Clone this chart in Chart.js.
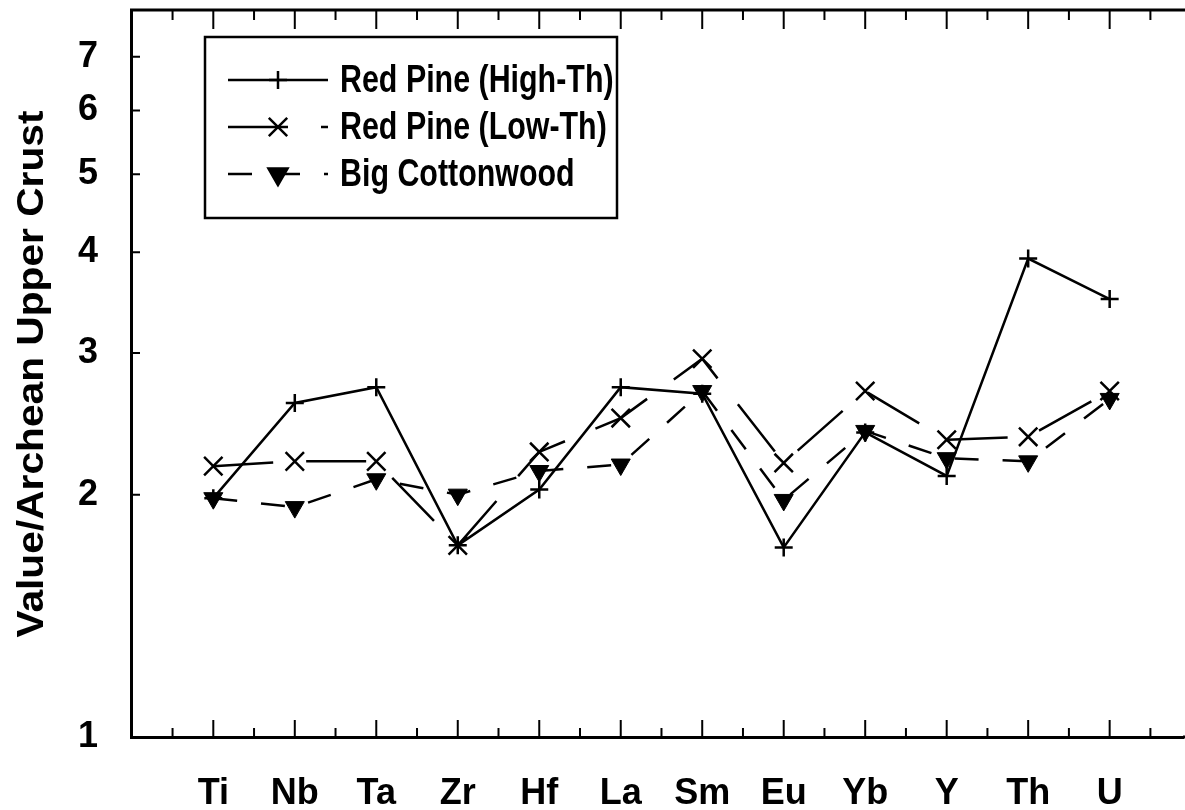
<!DOCTYPE html>
<html>
<head>
<meta charset="utf-8">
<script src="https://cdn.jsdelivr.net/npm/chart.js@4.4.1/dist/chart.umd.min.js"></script>
<style>
html, body { margin: 0; padding: 0; background: #fff; }
canvas { display: block; }
</style>
</head>
<body>
<canvas id="crustChart" width="1185" height="810"></canvas>
<script>
const elements = ['Ti', 'Nb', 'Ta', 'Zr', 'Hf', 'La', 'Sm', 'Eu', 'Yb', 'Y', 'Th', 'U'];
const redPineHigh = [1.98, 2.60, 2.72, 1.73, 2.03, 2.72, 2.67, 1.72, 2.39, 2.11, 3.93, 3.50];
const redPineLow = [2.17, 2.20, 2.20, 1.73, 2.26, 2.49, 2.95, 2.19, 2.69, 2.34, 2.36, 2.69];
const bigCottonwood = [1.98, 1.93, 2.09, 2.00, 2.14, 2.18, 2.69, 1.97, 2.40, 2.22, 2.20, 2.63];
const yTicks = [1, 2, 3, 4, 5, 6, 7];

const ink = '#000';
const face = "'Liberation Sans', Arial, sans-serif";

const toPoints = vals => vals.map((v, i) => ({ x: i, y: v }));

// frame top line and the small inward tick marks
const framePlugin = {
    id: 'frame',
    afterDraw(chart) {
        const { ctx, chartArea: a, scales } = chart;
        ctx.save();
        ctx.strokeStyle = ink;
        ctx.lineWidth = 3;
        ctx.beginPath();
        ctx.moveTo(a.left - 1, a.top);
        ctx.lineTo(chart.width, a.top);
        ctx.moveTo(a.right, a.bottom);
        ctx.lineTo(chart.width, a.bottom);
        ctx.stroke();

        ctx.lineWidth = 2;
        ctx.beginPath();
        for (let i = -0.5; i <= elements.length; i += 0.5) {
            const x = scales.x.getPixelForValue(i);
            if (x < a.left + 3 || x > chart.width - 10) continue;
            const major = Number.isInteger(i);
            ctx.moveTo(x, a.bottom);
            ctx.lineTo(x, a.bottom - (major ? 17 : 9));
            ctx.moveTo(x, a.top);
            ctx.lineTo(x, a.top + (major ? 19 : 10));
        }
        yTicks.forEach(v => {
            const y = scales.y.getPixelForValue(v);
            ctx.moveTo(a.left, y);
            ctx.lineTo(a.left + 9, y);
        });
        ctx.stroke();
        ctx.restore();
    }
};

// boxed legend with a line sample and marker for each series
const legendPlugin = {
    id: 'boxLegend',
    afterDraw(chart) {
        const ctx = chart.ctx;
        ctx.save();
        ctx.strokeStyle = ink;
        ctx.fillStyle = ink;
        ctx.lineWidth = 2.5;
        ctx.strokeRect(205, 37, 412, 181);

        chart.data.datasets.forEach((ds, i) => {
            const y = 80 + i * 47;
            ctx.setLineDash(ds.borderDash || []);
            ctx.lineWidth = ds.borderWidth;
            ctx.beginPath();
            ctx.moveTo(228, y);
            ctx.lineTo(328, y);
            ctx.stroke();
            ctx.setLineDash([]);
            Chart.helpers.drawPoint(ctx, {
                pointStyle: ds.pointStyle,
                rotation: ds.pointRotation || 0,
                radius: ds.pointRadius,
                borderWidth: ds.pointBorderWidth
            }, 278, y);

            // the legend face is set narrow, so squeeze the text sideways
            ctx.save();
            ctx.translate(340, y + 2);
            ctx.scale(0.8, 1);
            ctx.font = 'bold 38px ' + face;
            ctx.textBaseline = 'middle';
            ctx.textAlign = 'left';
            ctx.fillText(ds.label, 0, 0);
            ctx.restore();
        });
        ctx.restore();
    }
};

// rotated y-axis title
const titlePlugin = {
    id: 'yTitle',
    afterDraw(chart) {
        const ctx = chart.ctx;
        ctx.save();
        ctx.translate(43, 374);
        ctx.rotate(-Math.PI / 2);
        ctx.scale(1.1, 1);
        ctx.fillStyle = ink;
        ctx.font = 'bold 37px ' + face;
        ctx.textAlign = 'center';
        ctx.textBaseline = 'alphabetic';
        ctx.fillText('Value/Archean Upper Crust', 0, 0);
        ctx.restore();
    }
};

const ctx = document.getElementById('crustChart');

new Chart(ctx, {
    type: 'line',
    data: {
        datasets: [{
            label: 'Red Pine (High-Th)',
            data: toPoints(redPineHigh),
            borderColor: ink,
            borderWidth: 2.5,
            pointStyle: 'cross',
            pointRadius: 9,
            pointBorderWidth: 2.5,
            pointBorderColor: ink,
            pointBackgroundColor: ink
        }, {
            label: 'Red Pine (Low-Th)',
            data: toPoints(redPineLow),
            borderColor: ink,
            borderWidth: 2.5,
            borderDash: [60, 33],
            pointStyle: 'crossRot',
            pointRadius: 13,
            pointBorderWidth: 2.5,
            pointBorderColor: ink,
            pointBackgroundColor: ink
        }, {
            label: 'Big Cottonwood',
            data: toPoints(bigCottonwood),
            borderColor: ink,
            borderWidth: 2.5,
            borderDash: [24, 24],
            pointStyle: 'triangle',
            pointRotation: 180,
            pointRadius: 11,
            pointBorderWidth: 1,
            pointBorderColor: ink,
            pointBackgroundColor: ink
        }]
    },
    options: {
        responsive: false,
        devicePixelRatio: 1,
        animation: false,
        layout: {
            autoPadding: false,
            padding: { top: 10, right: 2, left: 0, bottom: 0 }
        },
        plugins: {
            legend: { display: false },
            tooltip: { enabled: false }
        },
        scales: {
            x: {
                type: 'linear',
                min: -1.01,
                max: 11.9,
                grid: { display: false, drawTicks: false },
                border: { display: true, color: ink, width: 3 },
                afterBuildTicks: scale => {
                    scale.ticks = elements.map((_, i) => ({ value: i }));
                },
                afterFit: scale => {
                    scale.height = 73;
                    scale.paddingLeft = 0;
                    scale.paddingRight = 0;
                },
                ticks: {
                    autoSkip: false,
                    maxRotation: 0,
                    padding: 35,
                    color: ink,
                    font: { family: face, size: 36, weight: 'bold' },
                    callback: v => elements[v]
                }
            },
            y: {
                type: 'logarithmic',
                min: 1,
                max: 8,
                grid: { display: false, drawTicks: false },
                border: { display: true, color: ink, width: 3 },
                afterBuildTicks: scale => {
                    scale.ticks = yTicks.map(v => ({ value: v }));
                },
                afterFit: scale => {
                    scale.width = 131;
                    scale.paddingTop = 0;
                    scale.paddingBottom = 0;
                },
                ticks: {
                    autoSkip: false,
                    padding: 33,
                    color: ink,
                    font: { family: face, size: 36, weight: 'bold' },
                    callback: v => String(v)
                }
            }
        }
    },
    plugins: [framePlugin, legendPlugin, titlePlugin]
});
</script>
</body>
</html>
